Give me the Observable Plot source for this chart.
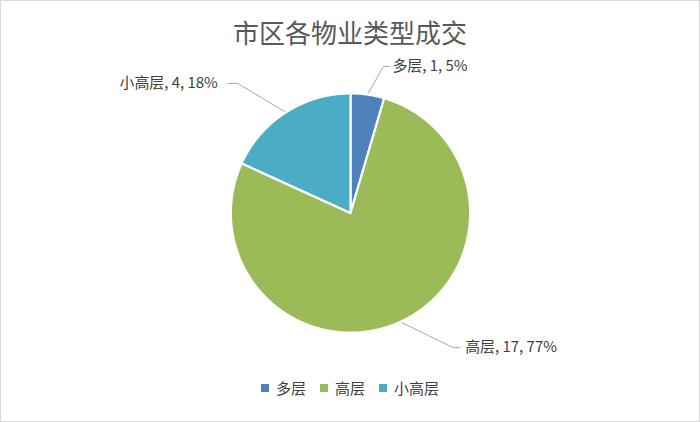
<!DOCTYPE html>
<html>
<head>
<meta charset="utf-8">
<script src="https://cdn.jsdelivr.net/npm/d3@7"></script>
<script src="https://cdn.jsdelivr.net/npm/@observablehq/plot@0.6"></script>
<style>
  html, body { margin: 0; padding: 0; background: #fff; }
  #wrap { width: 700px; height: 422px; box-sizing: border-box; border: 1px solid #d9d9d9; background: #fff; overflow: hidden;
          font-family: "Noto Sans CJK SC", "Noto Sans", sans-serif; }
  #title { height: 54px; line-height: 62px; text-align: center; font-size: 26px; color: #595959; }
  #legend { display: flex; justify-content: center; align-items: center; gap: 14px; font-size: 15px; color: #404040; margin-top: 8px; }
  #legend .item { display: flex; align-items: center; gap: 7px; }
  #legend .sw { width: 8px; height: 8px; display: inline-block; }
</style>
</head>
<body>
<div id="wrap">
  <div id="title">市区各物业类型成交</div>
  <div id="chart"></div>
  <div id="legend"></div>
</div>
<script>
// ---- data ----
const categories = ["多层", "高层", "小高层"];
const values = [1, 17, 4];
const colors = ["#4F81BD", "#9BBB59", "#4BACC6"];

// ---- layout (pixels relative to pie centre, y up) ----
const R = 120;
const labelLayout = [
  {elbow: [33, 147], tick: 6, gap: 3},
  {elbow: [103, -135], tick: 7, gap: 5},
  {elbow: [-113, 130], tick: -10, gap: -10}
];

const total = d3.sum(values);
const data = categories.map((c, i) => ({cat: c, value: values[i]}));
const arcs = d3.pie().sort(null).value(d => d.value).startAngle(0).endAngle(2 * Math.PI)(data);

// slice polygons
const slicePts = [];
arcs.forEach(a => {
  const cat = a.data.cat;
  slicePts.push({cat, x: 0, y: 0});
  const n = Math.max(2, Math.ceil((a.endAngle - a.startAngle) / 0.01));
  for (let k = 0; k <= n; k++) {
    const t = a.startAngle + (a.endAngle - a.startAngle) * k / n;
    slicePts.push({cat, x: R * Math.sin(t), y: R * Math.cos(t)});
  }
  slicePts.push({cat, x: 0, y: 0});
});

// leader lines and labels
const leaderPts = [];
const labels = [];
arcs.forEach((a, i) => {
  const cat = a.data.cat;
  const mid = (a.startAngle + a.endAngle) / 2;
  const L = labelLayout[i];
  leaderPts.push({cat, x: R * Math.sin(mid), y: R * Math.cos(mid)});
  leaderPts.push({cat, x: L.elbow[0], y: L.elbow[1]});
  leaderPts.push({cat, x: L.elbow[0] + L.tick, y: L.elbow[1]});
  const pct = Math.round(a.data.value / total * 100);
  labels.push({
    cat,
    x: L.elbow[0] + L.tick + L.gap,
    y: L.elbow[1],
    anchor: L.tick > 0 ? "start" : "end",
    text: `${cat}, ${a.data.value}, ${pct}%`
  });
});

const H = 315;
const plot = Plot.plot({
  width: 700,
  height: H,
  margin: 0,
  x: {domain: [-350, 350], axis: null},
  y: {domain: [-157, 158], axis: null},
  color: {domain: categories, range: colors},
  style: {fontFamily: '"Noto Sans CJK SC", "Noto Sans", sans-serif', background: "transparent"},
  marks: [
    Plot.line(leaderPts, {x: "x", y: "y", z: "cat", stroke: "#a6a6a6", strokeWidth: 1}),
    Plot.line(slicePts, {x: "x", y: "y", z: "cat", fill: "cat", stroke: "white", strokeWidth: 2.2, strokeLinejoin: "round"}),
    Plot.text(labels.filter(d => d.anchor === "start"), {x: "x", y: "y", text: "text", textAnchor: "start", fontSize: 15, fill: "#404040"}),
    Plot.text(labels.filter(d => d.anchor === "end"), {x: "x", y: "y", text: "text", textAnchor: "end", fontSize: 15, fill: "#404040"})
  ]
});
document.getElementById("chart").appendChild(plot);

// legend
const leg = document.getElementById("legend");
categories.forEach((c, i) => {
  const item = document.createElement("div");
  item.className = "item";
  const sw = document.createElement("span");
  sw.className = "sw";
  sw.style.background = colors[i];
  const t = document.createElement("span");
  t.textContent = c;
  item.appendChild(sw);
  item.appendChild(t);
  leg.appendChild(item);
});
</script>
</body>
</html>
